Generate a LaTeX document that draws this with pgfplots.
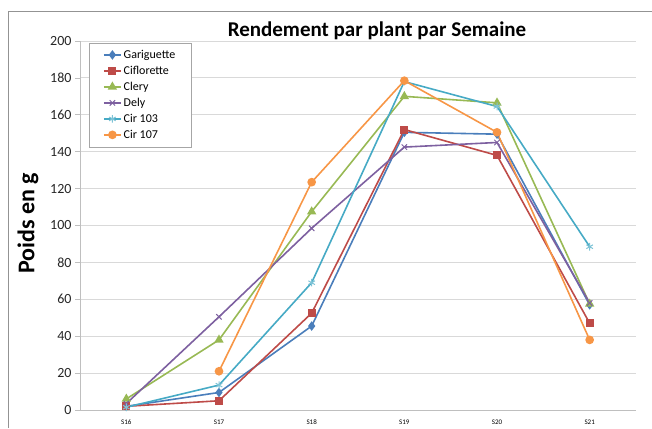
\documentclass[border=0pt]{standalone}
\usepackage{fontspec}
\setmainfont{Carlito}
\usepackage{pgfplots}
\pgfplotsset{compat=1.18}
\definecolor{cA}{HTML}{4A7EBB}
\definecolor{cB}{HTML}{BE4B48}
\definecolor{cC}{HTML}{98B954}
\definecolor{cD}{HTML}{7D60A0}
\definecolor{cE}{HTML}{46AAC5}
\definecolor{cF}{HTML}{F79646}
\definecolor{gridc}{HTML}{D9D9D9}
\definecolor{axc}{HTML}{BFBFBF}
\begin{document}
\begin{tikzpicture}[x=1pt,y=1pt]
\useasboundingbox (0,0) rectangle (652,428);
\draw[color=gray!85, line width=0.9pt] (8,0) -- (8,417) -- (652,417);
\node[font=\fontsize{21}{24}\selectfont\bfseries] at (377,397) {Rendement par plant par Semaine};
\node[font=\fontsize{24}{28}\selectfont\bfseries, rotate=90] at (28,204.5) {Poids en g};
\begin{axis}[
  at={(80pt,18pt)}, anchor=south west,
  scale only axis, width=556pt, height=369pt,
  xmin=0, xmax=6, ymin=0, ymax=200,
  axis x line*=bottom, axis y line*=left,
  axis line style={axc, line width=0.8pt, -},
  xtick={0.5,1.5,2.5,3.5,4.5,5.5},
  xticklabels={S16,S17,S18,S19,S20,S21},
  x tick label style={font=\fontsize{7}{8}\selectfont, yshift=-1pt},
  major x tick style={draw=none},
  extra x ticks={0,1,2,3,4,5,6},
  extra x tick labels={},
  extra x tick style={major tick length=4pt, tick style={axc, line width=0.6pt}, grid=none},
  ytick={0,20,...,200},
  y tick label style={font=\fontsize{14}{16}\selectfont, color=black!85},
  ytick style={axc, line width=0.6pt},
  major tick length=5pt,
  tick align=outside,
  ymajorgrids, grid style={gridc, line width=0.8pt},
  /pgf/number format/assume math mode=true,
  legend cell align=left,
  legend style={at={(rel axis cs:0.016,0.995)}, anchor=north west, draw=gray!70, fill=white,
    font=\fontsize{12}{13}\selectfont, row sep=2.2pt, inner xsep=14pt, inner ysep=5pt},
  legend image code/.code={\draw[mark repeat=2,mark phase=2] plot coordinates {(0pt,0pt)(8.5pt,0pt)(17pt,0pt)};},
  every axis plot/.append style={line width=1.6pt},
]
\addplot[cA, mark=diamond*, mark size=3.5pt, mark options={solid, fill=cA}] coordinates {(0.5,2) (1.5,9.5) (2.5,45.5) (3.5,150.5) (4.5,149.5) (5.5,57)};
\addlegendentry{Gariguette}
\addplot[cB, mark=square*, mark size=3.2pt, mark options={solid, fill=cB}] coordinates {(0.5,2) (1.5,5) (2.5,52.5) (3.5,152) (4.5,138) (5.5,47)};
\addlegendentry{Ciflorette}
\addplot[cC, mark=triangle*, mark size=3.8pt, mark options={solid, fill=cC}] coordinates {(0.5,6) (1.5,38) (2.5,107.5) (3.5,170) (4.5,166.5) (5.5,57.5)};
\addlegendentry{Clery}
\addplot[cD, mark=x, mark size=3.8pt, mark options={solid, line width=1pt}] coordinates {(0.5,3.5) (1.5,50.5) (2.5,98.5) (3.5,142.5) (4.5,145) (5.5,58)};
\addlegendentry{Dely}
\addplot[cE, mark=asterisk, mark size=3.8pt, mark options={solid, line width=1pt, color=cE!70}] coordinates {(0.5,1.5) (1.5,13.5) (2.5,69) (3.5,178) (4.5,164.5) (5.5,88.5)};
\addlegendentry{Cir 103}
\addplot[cF, mark=*, mark size=3.5pt, mark options={solid, fill=cF}] coordinates {(1.5,21) (2.5,123.5) (3.5,178.5) (4.5,150.5) (5.5,38)};
\addlegendentry{Cir 107}
\end{axis}
\end{tikzpicture}
\end{document}
